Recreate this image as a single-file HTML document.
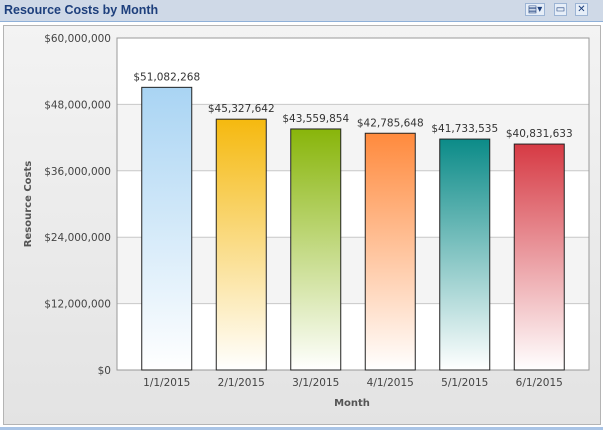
<!DOCTYPE html>
<html><head><style>
body{margin:0;width:603px;height:430px;overflow:hidden;background:#fff;font-family:"Liberation Sans",sans-serif;}
#hdr{position:absolute;left:0;top:0;width:603px;height:21px;background:#cfd9e7;border-bottom:1px solid #8fb0d8;}
#title{position:absolute;left:4px;top:3px;font-size:12.5px;font-weight:bold;color:#1d3f7c;}
.ic{position:absolute;top:3px;width:13px;height:13px;border:1px solid #9cb4d4;background:#e6eef8;box-sizing:border-box;font-size:10px;color:#1d3f7c;text-align:center;line-height:11px}
#panel{position:absolute;left:3px;top:25px;width:596px;height:398px;border:1px solid #b4b4b4;background:linear-gradient(#f3f3f3,#e3e3e3);}
#foot{position:absolute;left:0;top:427px;width:603px;height:3px;background:#a9c4e6;}
svg text{font-family:"DejaVu Sans",sans-serif;}
</style></head><body>
<div id="hdr"><div id="title">Resource Costs by Month</div>
<div class="ic" style="left:525px;width:20px">▤▾</div>
<div class="ic" style="left:554px">▭</div>
<div class="ic" style="left:575px">✕</div></div>
<div id="panel"></div>
<div id="foot"></div>
<svg id="c" width="603" height="430" style="position:absolute;left:0;top:0"></svg>
<script>
const categories=["1/1/2015","2/1/2015","3/1/2015","4/1/2015","5/1/2015","6/1/2015"];
const values=[51082268,45327642,43559854,42785648,41733535,40831633];
const labels=["$51,082,268","$45,327,642","$43,559,854","$42,785,648","$41,733,535","$40,831,633"];
const ticks=[0,12000000,24000000,36000000,48000000,60000000];
const tickLabels=["$0","$12,000,000","$24,000,000","$36,000,000","$48,000,000","$60,000,000"];
const colors=["#a9d4f3","#f5b90f","#88b50a","#ff8a3d","#0b8b88","#d63a44"];
const L=117,R=589,T=38,B=370,max=60000000,pad=12.5;
const y=v=>B-(v/max)*(B-T);
const bw=(R-L-2*pad)/categories.length;
const x=i=>L+pad+bw*i+bw/2;
const s=document.getElementById('c'),NS="http://www.w3.org/2000/svg";
function mk(t,a,p){const e=document.createElementNS(NS,t);for(const k in a)e.setAttribute(k,a[k]);(p||s).appendChild(e);return e;}
const defs=mk('defs',{});
mk('rect',{x:L,y:T,width:R-L,height:B-T,fill:'#fff'});
for(let i=0;i<ticks.length-1;i++){if(i%2==1){mk('rect',{x:L,y:y(ticks[i+1]),width:R-L,height:y(ticks[i])-y(ticks[i+1]),fill:'#f4f4f4'});}}
ticks.forEach((t,i)=>{const g=mk('line',{x1:L,x2:R,y1:y(t),y2:y(t),stroke:'#c8c8c8'});


const tx=mk('text',{x:L-6,y:y(t)+4,'text-anchor':'end','font-size':10.5,fill:'#444'});tx.textContent=tickLabels[i];

});
mk('rect',{x:L,y:T,width:R-L,height:B-T,fill:'none',stroke:'#999'});
values.forEach((v,i)=>{
const gr=mk('linearGradient',{id:'g'+i,x1:0,y1:0,x2:0,y2:1},defs);
mk('stop',{offset:0,'stop-color':colors[i]},gr);mk('stop',{offset:1,'stop-color':'#fff'},gr);
const b=mk('rect',{x:x(i)-25,y:y(v),width:50,height:B-y(v),fill:'url(#g'+i+')',stroke:'#222','stroke-width':1});


const t=mk('text',{x:x(i),y:y(v)-7,'text-anchor':'middle','font-size':10.5,fill:'#333'});t.textContent=labels[i];


const c=mk('text',{x:x(i),y:B+16,'text-anchor':'middle','font-size':10.5,fill:'#444'});c.textContent=categories[i];

});
const xt=mk('text',{x:352,y:406,'text-anchor':'middle','font-size':10,'font-weight':'bold',fill:'#555'});xt.textContent='Month';


const yt=mk('text',{x:0,y:0,transform:'translate(31,204) rotate(-90)','text-anchor':'middle','font-size':10,'font-weight':'bold',fill:'#555'});yt.textContent='Resource Costs';


</script>
</body></html>
